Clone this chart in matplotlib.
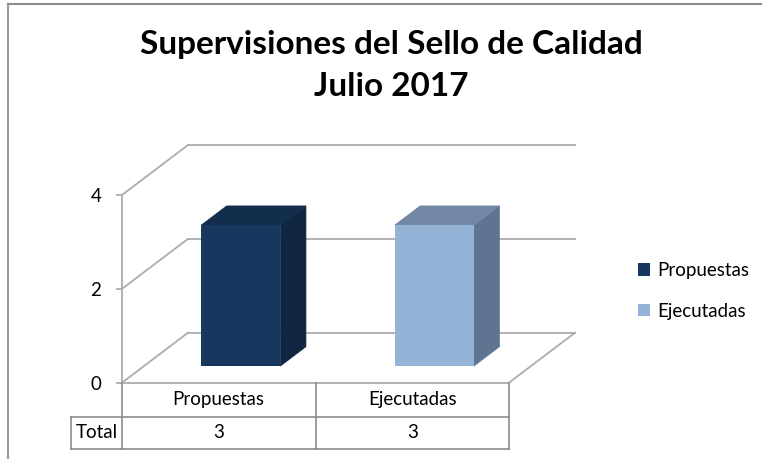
import matplotlib
matplotlib.use('Agg')
import matplotlib.pyplot as plt
from matplotlib.patches import Polygon
from matplotlib.lines import Line2D
from matplotlib.transforms import blended_transform_factory

# datos del grafico
categories = ['Propuestas', 'Ejecutadas']
totals = [3, 3]
row_label = 'Total'
y_ticks = [0, 2, 4]
title_lines = ['Supervisiones del Sello de Calidad', 'Julio 2017']

front_colors = ['#17375e', '#95b3d7']
side_colors = ['#10253f', '#5f7490']
top_colors = ['#132d4d', '#7287a4']

W, H = 762, 459
plt.rcParams['font.family'] = ['Lato', 'DejaVu Sans']
FS = 13.5


def fx(px):
    return px / W


def fy(py):
    return 1 - py / H


fig = plt.figure(figsize=(W / 100, H / 100), dpi=100)
fig.patch.set_facecolor('white')

ax = fig.add_axes([fx(122), fy(382.7), fx(509) - fx(122), fy(195) - fy(382.7)])
ax.set_xlim(-0.5, 1.5)
ax.set_ylim(0, 4)
ax.patch.set_visible(False)
for s in ax.spines.values():
    s.set_visible(False)

# profundidad de la caja 3D en unidades de datos
DX = 66 / 193.5
DY = 50 / 46.93


def proj(x, v, d):
    return x + d * DX, v + d * DY


grid_c = '#acacac'
line_c = '#8c8c8c'

# paredes y suelo
for v in y_ticks:
    bx0, by0 = proj(-0.5, v, 1)
    bx1, by1 = proj(1.5, v, 1)
    ax.plot([bx0, bx1], [by0, by1], color=grid_c, lw=1.3, clip_on=False, zorder=1)
    fx0, fy0 = proj(-0.5, v, 0)
    ax.plot([fx0, bx0], [fy0, by0], color=grid_c, lw=1.3, clip_on=False, zorder=1)
p0 = proj(1.5, 0, 0)
p1 = proj(1.5, 0, 1)
ax.plot([p0[0], p1[0]], [p0[1], p1[1]], color=grid_c, lw=1.3, clip_on=False, zorder=1)
ax.plot([-0.5, 1.5], [0, 0], color=grid_c, lw=1.3, clip_on=False, zorder=1)
ax.plot([-0.5, -0.5], [0, 4], color=grid_c, lw=1.3, clip_on=False, zorder=1)

# barras 3D
d0, d1 = 0.334, 0.72
bw = 0.41
xs = list(range(len(categories)))
for i, val in enumerate(totals):
    xl, xr = i - bw / 2, i + bw / 2
    side = [proj(xr, 0, d0), proj(xr, 0, d1), proj(xr, val, d1), proj(xr, val, d0)]
    top = [proj(xl, val, d0), proj(xl, val, d1), proj(xr, val, d1), proj(xr, val, d0)]
    ax.add_patch(Polygon(side, closed=True, facecolor=side_colors[i], edgecolor=side_colors[i],
                         lw=0.5, zorder=3, clip_on=False))
    ax.add_patch(Polygon(top, closed=True, facecolor=top_colors[i], edgecolor=top_colors[i],
                         lw=0.5, zorder=3, clip_on=False))
bars = ax.bar([x + d0 * DX for x in xs], totals, width=bw, bottom=d0 * DY,
              color=front_colors, zorder=4, clip_on=False)

ax.set_xticks([])
ax.set_yticks(y_ticks)
ax.tick_params(axis='y', length=4, color=grid_c, width=1.3, pad=11, labelsize=FS)

# tabla de datos
trans = blended_transform_factory(ax.transData, fig.transFigure)
r_top, r_mid, r_bot = fy(382.7), fy(416.7), fy(449)
x_lab = -0.5 - 51.3 / 193.5
for x in [-0.5, 0.5, 1.5]:
    ax.plot([x, x], [r_top, r_bot], color=line_c, lw=1.2, transform=trans, clip_on=False)
ax.plot([x_lab, x_lab], [r_mid, r_bot], color=line_c, lw=1.2, transform=trans, clip_on=False)
ax.plot([x_lab, 1.5], [r_mid, r_mid], color=line_c, lw=1.2, transform=trans, clip_on=False)
ax.plot([x_lab, 1.5], [r_bot, r_bot], color=line_c, lw=1.2, transform=trans, clip_on=False)
for i, cat in enumerate(categories):
    ax.text(i, (r_top + r_mid) / 2, cat, ha='center', va='center', fontsize=FS, transform=trans)
    ax.text(i, (r_mid + r_bot) / 2, str(totals[i]), ha='center', va='center', fontsize=FS,
            transform=trans)
ax.text((x_lab - 0.5) / 2, (r_mid + r_bot) / 2, row_label, ha='center', va='center',
        fontsize=FS, transform=trans)

# leyenda
fig.legend(handles=list(bars), labels=categories, loc='center left',
           bbox_to_anchor=(fx(638), fy(291)), frameon=False, fontsize=FS,
           handlelength=0.65, handleheight=0.65, handletextpad=0.4,
           labelspacing=1.25, borderpad=0, borderaxespad=0)

# titulo
fig.text(fx(391), fy(54), title_lines[0], ha='center', va='baseline',
         fontsize=24, fontweight='bold')
fig.text(fx(391), fy(96), title_lines[1], ha='center', va='baseline',
         fontsize=24, fontweight='bold')

# marco
fig.add_artist(Line2D([fx(8), fx(8)], [fy(4), 0], color='#999999', lw=1.5))
fig.add_artist(Line2D([fx(8), 1], [fy(4), fy(4)], color='#8c8c8c', lw=1.5))

fig.savefig('out.png', dpi=100)
